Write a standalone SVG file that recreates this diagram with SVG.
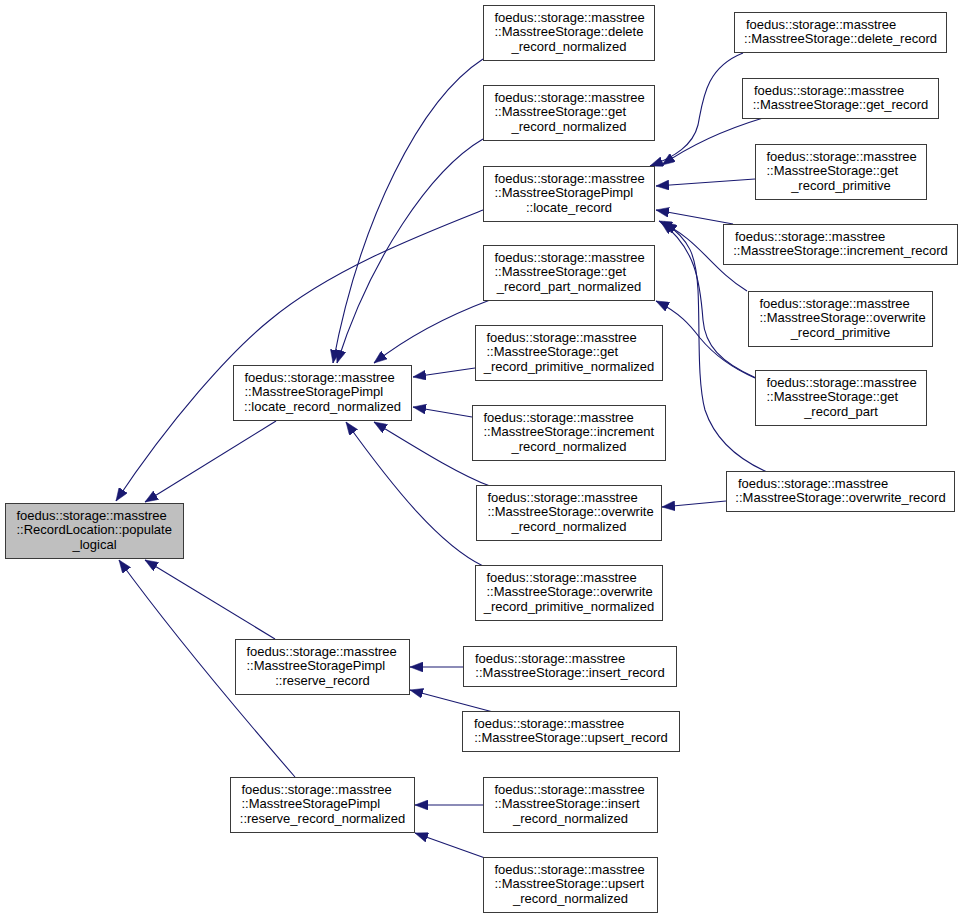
<svg xmlns="http://www.w3.org/2000/svg" width="969" height="919" viewBox="0 0 969 919">
<style>
rect{fill:#fff;stroke:#3a3a3a;stroke-width:1}
#populate rect{fill:#bfbfbf}
text{font-family:"Liberation Sans",Arial,sans-serif;font-size:13px;fill:#000}
.c{text-anchor:middle}
#edges path{fill:none;stroke:#191970;stroke-width:1.1;marker-end:url(#ah)}
</style>
<defs>
<marker id="ah" viewBox="0 0 13 10" refX="13" refY="5" markerWidth="13" markerHeight="10" markerUnits="userSpaceOnUse" orient="auto">
<path d="M0,0 L13,5 L0,10 z" fill="#191970" stroke="#191970" stroke-width="0.5"/>
</marker>
</defs>
<rect x="0" y="0" width="969" height="919" style="fill:#fff;stroke:none"/>
<g id="edges">
<path d="M483,210 C420,235 330,270 270,320 C230,352 170,420 116,501"/>
<path d="M276,421 L145,502"/>
<path d="M275,639 L145,560"/>
<path d="M295,777 C250,725 170,630 119,560"/>
<path d="M483,59 C420,100 360,220 333,363"/>
<path d="M483,139 C430,170 370,260 337,363"/>
<path d="M490,300 C450,315 410,335 374,363"/>
<path d="M475,368 L413,377"/>
<path d="M472,417 L413,407"/>
<path d="M490,486 C460,475 420,450 374,422"/>
<path d="M483,566 C440,545 395,490 346,422"/>
<path d="M743,53 C705,68 703,100 698,125 C693,145 675,157 650,166"/>
<path d="M763,118 C730,128 695,142 662,165"/>
<path d="M755,179 L656,186"/>
<path d="M733,224 L656,210"/>
<path d="M747,291 C710,268 700,240 659,221"/>
<path d="M756,378 C720,362 705,345 703,320 C700,280 695,248 661,222"/>
<path d="M767,472 C740,460 715,440 705,410 C697,380 700,330 698,290 C696,255 690,240 664,222"/>
<path d="M755,378 C725,365 710,350 700,338 C690,325 680,313 656,301"/>
<path d="M726,501 L662,507"/>
<path d="M464,667 L410,667"/>
<path d="M493,712 L410,690"/>
<path d="M484,805 L415,805"/>
<path d="M485,858 L415,833"/>
</g>
<g id="populate"><rect x="5.5" y="503.5" width="178" height="55"/><text x="16.5" y="519.5">foedus::storage::masstree</text><text x="16.5" y="534">::RecordLocation::populate</text><text class="c" x="94.5" y="548.5">_logical</text></g>
<g id="locate_record_normalized"><rect x="233.5" y="365.5" width="178" height="55"/><text x="244.5" y="381.5">foedus::storage::masstree</text><text x="244.5" y="396">::MasstreeStoragePimpl</text><text class="c" x="322.5" y="410.5">::locate_record_normalized</text></g>
<g id="locate_record"><rect x="483.5" y="166.5" width="171" height="55"/><text x="494.5" y="182.5">foedus::storage::masstree</text><text x="494.5" y="197">::MasstreeStoragePimpl</text><text class="c" x="569" y="211.5">::locate_record</text></g>
<g id="delete_record_normalized"><rect x="483.5" y="5.5" width="171" height="55"/><text x="494.5" y="21.5">foedus::storage::masstree</text><text x="494.5" y="36">::MasstreeStorage::delete</text><text class="c" x="569" y="50.5">_record_normalized</text></g>
<g id="get_record_normalized"><rect x="483.5" y="85.5" width="171" height="55"/><text x="494.5" y="101.5">foedus::storage::masstree</text><text x="494.5" y="116">::MasstreeStorage::get</text><text class="c" x="569" y="130.5">_record_normalized</text></g>
<g id="get_record_part_normalized"><rect x="483.5" y="245.5" width="171" height="55"/><text x="494.5" y="261.5">foedus::storage::masstree</text><text x="494.5" y="276">::MasstreeStorage::get</text><text class="c" x="569" y="290.5">_record_part_normalized</text></g>
<g id="get_record_primitive_normalized"><rect x="475.5" y="325.5" width="187" height="55"/><text x="486.5" y="341.5">foedus::storage::masstree</text><text x="486.5" y="356">::MasstreeStorage::get</text><text class="c" x="569" y="370.5">_record_primitive_normalized</text></g>
<g id="increment_record_normalized"><rect x="472.5" y="405.5" width="193" height="55"/><text x="483.5" y="421.5">foedus::storage::masstree</text><text x="483.5" y="436">::MasstreeStorage::increment</text><text class="c" x="569" y="450.5">_record_normalized</text></g>
<g id="overwrite_record_normalized"><rect x="476.5" y="485.5" width="185" height="55"/><text x="487.5" y="501.5">foedus::storage::masstree</text><text x="487.5" y="516">::MasstreeStorage::overwrite</text><text class="c" x="569" y="530.5">_record_normalized</text></g>
<g id="overwrite_record_primitive_normalized"><rect x="475.5" y="565.5" width="187" height="55"/><text x="486.5" y="581.5">foedus::storage::masstree</text><text x="486.5" y="596">::MasstreeStorage::overwrite</text><text class="c" x="569" y="610.5">_record_primitive_normalized</text></g>
<g id="reserve_record"><rect x="235.5" y="639.5" width="174" height="55"/><text x="246.5" y="655.5">foedus::storage::masstree</text><text x="246.5" y="670">::MasstreeStoragePimpl</text><text class="c" x="322.5" y="684.5">::reserve_record</text></g>
<g id="reserve_record_normalized"><rect x="230.5" y="777.5" width="184" height="55"/><text x="241.5" y="793.5">foedus::storage::masstree</text><text x="241.5" y="808">::MasstreeStoragePimpl</text><text class="c" x="322.5" y="822.5">::reserve_record_normalized</text></g>
<g id="delete_record"><rect x="734.5" y="12.5" width="212" height="40"/><text x="746" y="28.5">foedus::storage::masstree</text><text class="c" x="840.5" y="43">::MasstreeStorage::delete_record</text></g>
<g id="get_record"><rect x="742.5" y="78.5" width="196" height="40"/><text x="754" y="94.5">foedus::storage::masstree</text><text class="c" x="840.5" y="109">::MasstreeStorage::get_record</text></g>
<g id="get_record_primitive"><rect x="755.5" y="144.5" width="171" height="55"/><text x="766.5" y="160.5">foedus::storage::masstree</text><text x="766.5" y="175">::MasstreeStorage::get</text><text class="c" x="841" y="189.5">_record_primitive</text></g>
<g id="increment_record"><rect x="723.5" y="224.5" width="234" height="40"/><text x="735" y="240.5">foedus::storage::masstree</text><text class="c" x="840.5" y="255">::MasstreeStorage::increment_record</text></g>
<g id="overwrite_record_primitive"><rect x="748.5" y="291.5" width="184" height="55"/><text x="759.5" y="307.5">foedus::storage::masstree</text><text x="759.5" y="322">::MasstreeStorage::overwrite</text><text class="c" x="840.5" y="336.5">_record_primitive</text></g>
<g id="get_record_part"><rect x="755.5" y="370.5" width="171" height="55"/><text x="766.5" y="386.5">foedus::storage::masstree</text><text x="766.5" y="401">::MasstreeStorage::get</text><text class="c" x="841" y="415.5">_record_part</text></g>
<g id="overwrite_record"><rect x="726.5" y="471.5" width="228" height="40"/><text x="738" y="487.5">foedus::storage::masstree</text><text class="c" x="840.5" y="502">::MasstreeStorage::overwrite_record</text></g>
<g id="insert_record"><rect x="463.5" y="646.5" width="213" height="40"/><text x="475" y="662.5">foedus::storage::masstree</text><text class="c" x="570" y="677">::MasstreeStorage::insert_record</text></g>
<g id="upsert_record"><rect x="462.5" y="711.5" width="217" height="40"/><text x="474" y="727.5">foedus::storage::masstree</text><text class="c" x="571" y="742">::MasstreeStorage::upsert_record</text></g>
<g id="insert_record_normalized"><rect x="483.5" y="777.5" width="174" height="55"/><text x="494.5" y="793.5">foedus::storage::masstree</text><text x="494.5" y="808">::MasstreeStorage::insert</text><text class="c" x="570.5" y="822.5">_record_normalized</text></g>
<g id="upsert_record_normalized"><rect x="483.5" y="857.5" width="174" height="55"/><text x="494.5" y="873.5">foedus::storage::masstree</text><text x="494.5" y="888">::MasstreeStorage::upsert</text><text class="c" x="570.5" y="902.5">_record_normalized</text></g>
</svg>
